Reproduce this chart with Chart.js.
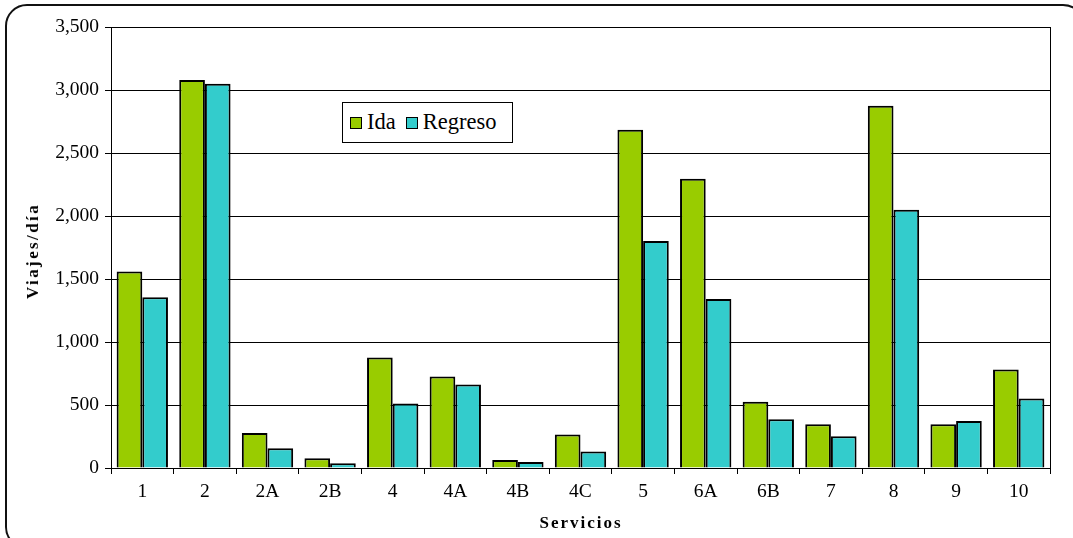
<!DOCTYPE html>
<html>
<head>
<meta charset="utf-8">
<script src="https://cdn.jsdelivr.net/npm/chart.js@4/dist/chart.umd.min.js"></script>
<style>
  html, body { margin: 0; padding: 0; background: #fff; overflow: hidden; }
  #wrap { position: relative; width: 1073px; height: 538px; overflow: hidden; }
  #frame { position: absolute; left: 5px; top: 4px; width: 1080px; height: 545px; border: 2px solid #111; border-radius: 22px; box-sizing: border-box; }
  canvas { position: absolute; left: 0; top: 0; }
  #legend { position: absolute; left: 342px; top: 102px; width: 171px; height: 41px; border: 1px solid #000; background: #fff; box-sizing: border-box;
            display: flex; align-items: center; padding-left: 7px; }
  #legend .item { display: flex; align-items: center; margin-right: 10px; }
  #legend .sw { width: 10px; height: 10px; border: 1.5px solid #000; margin-right: 5px; }
  #legend span { font-family: "Liberation Serif", "Times New Roman", serif; font-size: 22.5px; line-height: 1; color: #000; }
  .axtitle { position: absolute; font-family: "Liberation Serif", "Times New Roman", serif; font-weight: bold; color: #000; white-space: nowrap; }
  #ytitle { left: 33px; top: 251px; transform: translate(-50%, -50%) rotate(-90deg); letter-spacing: 2.4px; font-size: 17px; }
  #xtitle { left: 581px; top: 523px; transform: translate(-50%, -50%); letter-spacing: 2px; font-size: 17px; }
</style>
</head>
<body>
<div id="wrap">
  <div id="frame"></div>
  <canvas id="c" width="1073" height="538"></canvas>
  <div id="legend"></div>
  <div class="axtitle" id="ytitle">Viajes/día</div>
  <div class="axtitle" id="xtitle">Servicios</div>
</div>
<script>
const categories = ["1", "2", "2A", "2B", "4", "4A", "4B", "4C", "5", "6A", "6B", "7", "8", "9", "10"];
const seriesNames = ["Ida", "Regreso"];
const ida =     [1560, 3080, 278, 77, 877, 726, 64, 265, 2685, 2295, 525, 348, 2875, 348, 782];
const regreso = [1355, 3050, 157, 37, 512, 663, 48, 130, 1802, 1342, 387, 252, 2050, 374, 551];
const yTicks = [0, 500, 1000, 1500, 2000, 2500, 3000, 3500];
const colors = ["#99CC00", "#33CCCC"];

const serif = "'Liberation Serif', 'Times New Roman', serif";

const rightBorder = {
  id: "rightBorder",
  afterDraw(chart) {
    const a = chart.chartArea, ctx = chart.ctx;
    ctx.save();
    ctx.strokeStyle = "#000";
    ctx.lineWidth = 1;
    ctx.beginPath();
    ctx.moveTo(Math.round(a.right) + 0.5, a.top);
    ctx.lineTo(Math.round(a.right) + 0.5, a.bottom + 6);
    ctx.stroke();
    ctx.restore();
  }
};

const chart = new Chart(document.getElementById("c"), {
  type: "bar",
  data: {
    labels: categories,
    datasets: [
      { label: seriesNames[0], data: ida, backgroundColor: colors[0], borderColor: "#000", borderWidth: 2 },
      { label: seriesNames[1], data: regreso, backgroundColor: colors[1], borderColor: "#000", borderWidth: 2 }
    ]
  },
  options: {
    responsive: false,
    animation: false,
    devicePixelRatio: 1,
    layout: { padding: { left: 0, top: 27, right: 23, bottom: 0 } },
    datasets: { bar: { categoryPercentage: 0.82, barPercentage: 1.0 } },
    plugins: { legend: { display: false }, tooltip: { enabled: false } },
    scales: {
      x: {
        offset: true,
        grid: { offset: true, drawOnChartArea: false, color: "#000", tickLength: 6, lineWidth: 1 },
        border: { color: "#000", width: 1 },
        ticks: { color: "#000", font: { family: serif, size: 19.5 }, padding: 6, maxRotation: 0 },
        afterFit(s) { s.height = 70; }
      },
      y: {
        min: 0, max: 3500,
        afterBuildTicks(s) { s.ticks = yTicks.map(v => ({ value: v })); },
        grid: { color: "#000", lineWidth: 1, tickLength: 6 },
        border: { color: "#000", width: 1 },
        ticks: {
          color: "#000", font: { family: serif, size: 19.5 }, padding: 6,
          callback: v => v.toLocaleString("en-US")
        },
        afterFit(s) { s.width = 111; }
      }
    }
  },
  plugins: [rightBorder]
});

const lg = document.getElementById("legend");
chart.data.datasets.forEach(ds => {
  const it = document.createElement("div");
  it.className = "item";
  const sw = document.createElement("div");
  sw.className = "sw";
  sw.style.background = ds.backgroundColor;
  const tx = document.createElement("span");
  tx.textContent = ds.label;
  it.appendChild(sw); it.appendChild(tx);
  lg.appendChild(it);
});
</script>
</body>
</html>
